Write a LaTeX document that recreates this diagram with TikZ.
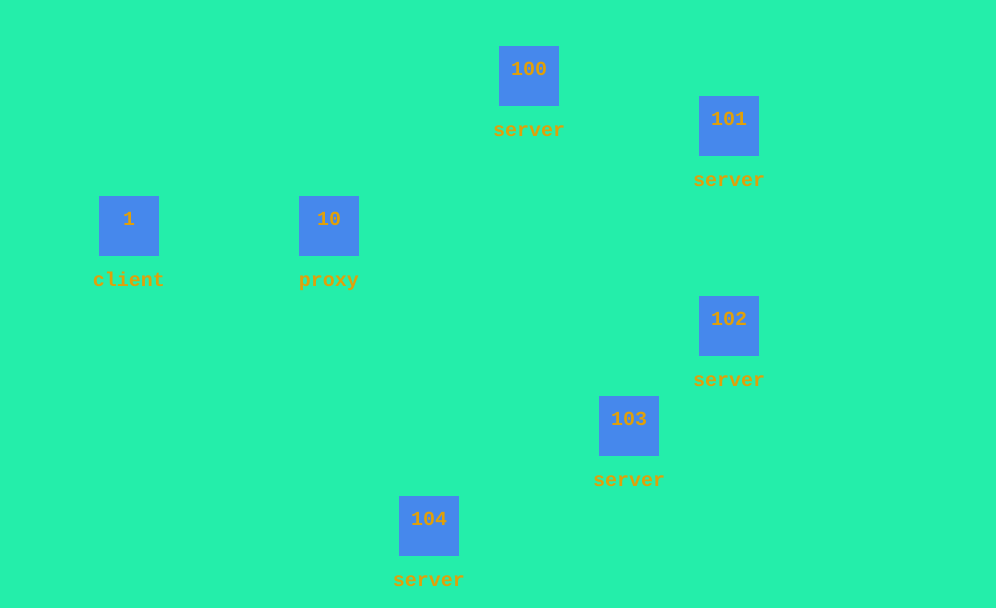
\documentclass[tikz,border=0pt]{standalone}
\usepackage{fontspec}
\setmonofont{Liberation Mono}
\definecolor{field}{RGB}{36,238,170}
\definecolor{hostblue}{RGB}{70,136,236}
\definecolor{hosttext}{RGB}{224,160,10}
\tikzset{
  host/.style={fill=hostblue, draw=none, minimum size=60pt, inner sep=0pt,
    text=hosttext, text height=14pt, text depth=15pt},
  role/.style={text=hosttext, inner sep=0pt, text height=14pt, text depth=4pt,
    label distance=16pt}
}
\begin{document}
\begin{tikzpicture}[x=1pt,y=-1pt,font=\ttfamily\bfseries\fontsize{20}{24}\selectfont]
  \fill[field] (0,0) rectangle (996,608);
  \useasboundingbox (0,0) rectangle (996,608);

  \node [host, label={[role, name=client label]below:client}] (n1) at (129,226) {1};
  \node [host, label={[role, name=proxy label]below:proxy}] (n10) at (329,226) {10};

  \foreach \id/\x/\y in {100/529/76, 101/729/126, 102/729/326, 103/629/426, 104/429/526}
    \node [host, label={[role, name=server label \id]below:server}] (n\id) at (\x,\y) {\id};

\end{tikzpicture}
\end{document}
